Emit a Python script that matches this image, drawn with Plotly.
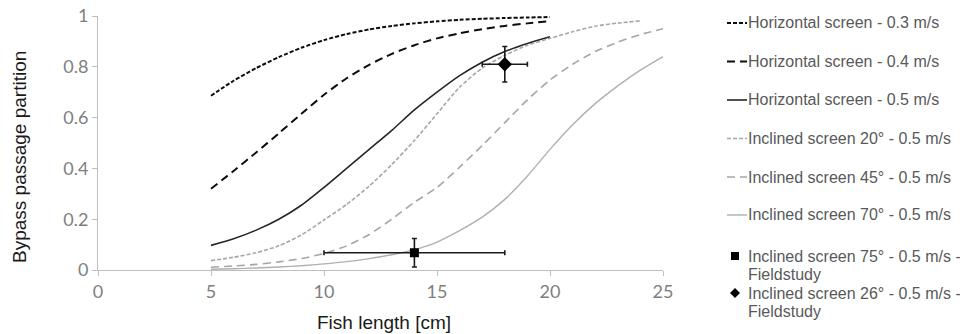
import plotly.graph_objects as go

# ---------------- data ----------------
L_h = list(range(5, 21))          # horizontal screens, 5..20 cm
L_i20 = list(range(5, 25))        # inclined 20°, 5..24 cm
L_i = list(range(5, 26))          # inclined 45°/70°, 5..25 cm

h03 = [0.686, 0.745, 0.795, 0.838, 0.875, 0.905, 0.929, 0.947, 0.961, 0.971, 0.979, 0.985, 0.989, 0.992, 0.994, 0.996]
h04 = [0.32, 0.39, 0.463, 0.538, 0.615, 0.69, 0.755, 0.808, 0.851, 0.885, 0.912, 0.932, 0.948, 0.961, 0.971, 0.98]
h05 = [0.097, 0.123, 0.157, 0.2, 0.255, 0.325, 0.40, 0.475, 0.55, 0.63, 0.70, 0.765, 0.818, 0.86, 0.892, 0.918]
i20 = [0.037, 0.05, 0.068, 0.095, 0.138, 0.197, 0.258, 0.33, 0.415, 0.51, 0.615, 0.72, 0.795, 0.845, 0.885, 0.912, 0.938, 0.96, 0.972, 0.981]
i45 = [0.011, 0.016, 0.022, 0.032, 0.045, 0.065, 0.095, 0.14, 0.2, 0.267, 0.325, 0.405, 0.49, 0.58, 0.67, 0.748, 0.81, 0.86, 0.897, 0.927, 0.95]
i70 = [0.003, 0.005, 0.008, 0.012, 0.017, 0.024, 0.033, 0.045, 0.06, 0.08, 0.11, 0.155, 0.208, 0.278, 0.37, 0.475, 0.572, 0.655, 0.725, 0.787, 0.84]

field75_x = [14]
field75_y = [0.068]
field75_xerr = [4]
field75_yerr = [0.056]
field26_x = [18]
field26_y = [0.81]
field26_xerr = [1]
field26_yerr = [0.07]

names = [
    "Horizontal screen - 0.3 m/s",
    "Horizontal screen - 0.4 m/s",
    "Horizontal screen - 0.5 m/s",
    "Inclined screen 20° - 0.5 m/s",
    "Inclined screen 45° - 0.5 m/s",
    "Inclined screen 70° - 0.5 m/s",
    "Inclined screen 75° - 0.5 m/s -\nFieldstudy",
    "Inclined screen 26° - 0.5 m/s -\nFieldstudy",
]
x_ticks = [0, 5, 10, 15, 20, 25]
y_ticks = [0, 0.2, 0.4, 0.6, 0.8, 1]
x_title = "Fish length [cm]"
y_title = "Bypass passage partition"

# ---------------- styles ----------------
BLACK = "#0d0d0d"
DARK = "#262626"
GRAY = "#a6a6a6"
LGRAY = "#b0b0b0"
styles = [
    dict(color=BLACK, width=2.0, dash="4px,2px"),
    dict(color=BLACK, width=2.0, dash="8px,5px"),
    dict(color=DARK, width=1.6, dash="solid"),
    dict(color=GRAY, width=1.6, dash="4px,2px"),
    dict(color=GRAY, width=1.6, dash="8px,5px"),
    dict(color=LGRAY, width=1.4, dash="solid"),
]
series = [(L_h, h03), (L_h, h04), (L_h, h05), (L_i20, i20), (L_i, i45), (L_i, i70)]

fig = go.Figure()
for (xs, ys), st, nm in zip(series, styles, names):
    fig.add_trace(go.Scatter(x=xs, y=ys, mode="lines", name=nm,
                             line=dict(color=st["color"], width=st["width"], dash=st["dash"],
                                       shape="spline", smoothing=0.6),
                             showlegend=False, hoverinfo="skip"))

fig.add_trace(go.Scatter(
    x=field75_x, y=field75_y, mode="markers", name=names[6].replace("\n", " "),
    marker=dict(symbol="square", size=9, color="#000000"),
    error_x=dict(type="data", array=field75_xerr, color="#1a1a1a", thickness=1.6, width=2.5),
    error_y=dict(type="data", array=field75_yerr, color="#1a1a1a", thickness=1.6, width=2.5),
    showlegend=False))
fig.add_trace(go.Scatter(
    x=field26_x, y=field26_y, mode="markers", name=names[7].replace("\n", " "),
    marker=dict(symbol="diamond", size=11, color="#000000"),
    error_x=dict(type="data", array=field26_xerr, color="#1a1a1a", thickness=1.6, width=2.5),
    error_y=dict(type="data", array=field26_yerr, color="#1a1a1a", thickness=1.6, width=2.5),
    showlegend=False))

# ---------------- layout geometry ----------------
# The page body adds an 8px offset; figure is sized to fit the 968x334 window.
OFF = 8
W, H = 968 - OFF, 334 - OFF
ML, MT = 98 - OFF, 16 - OFF
PR, PB = 663 - OFF, 270 - OFF
MR, MB = W - PR, H - PB
PW = PR - ML
PH = PB - MT


def px(xref_px):
    return (xref_px - OFF - ML) / PW


def py(yref_px):
    return (PB - (yref_px - OFF)) / PH


AX = "#bfbfbf"
TICKFONT = dict(family="Lato, Open Sans, sans-serif", size=18, color="#808080")

fig.update_layout(
    width=W, height=H,
    margin=dict(l=ML, r=MR, t=MT, b=MB, pad=0),
    paper_bgcolor="white", plot_bgcolor="white",
    xaxis=dict(range=[0, 25], tickvals=x_ticks, showgrid=False, zeroline=False,
               showline=True, linecolor=AX, linewidth=1, ticks="outside", ticklen=5,
               tickcolor=AX, tickfont=TICKFONT, fixedrange=True, automargin=False,
               ticklabeloverflow="allow"),
    yaxis=dict(range=[0, 1], tickvals=y_ticks, showgrid=False, zeroline=False,
               showline=True, linecolor=AX, linewidth=1, ticks="outside", ticklen=5,
               tickcolor=AX, tickfont=TICKFONT, ticklabelstandoff=0, fixedrange=True,
               automargin=False, ticklabeloverflow="allow"),
    showlegend=False,
)

TITLEFONT = dict(family="Liberation Sans, Arial, sans-serif", size=19, color="#1a1a1a")
fig.add_annotation(text=x_title, xref="paper", yref="paper", x=px(384), y=py(322),
                   xanchor="center", yanchor="middle", showarrow=False, font=TITLEFONT)
fig.add_annotation(text=y_title, xref="paper", yref="paper", x=px(19), y=py(157),
                   xanchor="center", yanchor="middle", showarrow=False, textangle=-90,
                   font=TITLEFONT)

# ---------------- legend (manual) ----------------
LEGFONT = dict(family="Liberation Sans, Arial, sans-serif", size=16, color="#595959")
row_y = [23, 61.5, 100, 138.5, 177, 215, 256, 293]
line2_dy = 18
sx0, sx1, tx = 727, 747, 746
for i, nm in enumerate(names):
    yc = row_y[i]
    parts = nm.split("\n")
    for k, part in enumerate(parts):
        fig.add_annotation(text=part, xref="paper", yref="paper", x=px(tx), y=py(yc + k * line2_dy),
                           xanchor="left", yanchor="middle", showarrow=False, font=LEGFONT)
    if i < 6:
        st = styles[i]
        fig.add_shape(type="line", xref="paper", yref="paper", x0=px(sx0), x1=px(sx1),
                      y0=py(yc), y1=py(yc),
                      line=dict(color=st["color"], width=st["width"], dash=st["dash"]))
    elif i == 6:
        cx = 735
        fig.add_shape(type="rect", xref="paper", yref="paper", x0=px(cx - 4), x1=px(cx + 4),
                      y0=py(yc - 4), y1=py(yc + 4), fillcolor="#000000", line=dict(width=0))
    else:
        cx = 735
        path = "M {} {} L {} {} L {} {} L {} {} Z".format(
            px(cx), py(yc - 5), px(cx + 5), py(yc), px(cx), py(yc + 5), px(cx - 5), py(yc))
        fig.add_shape(type="path", xref="paper", yref="paper", path=path,
                      fillcolor="#000000", line=dict(width=0))

fig.write_html("out.html")
